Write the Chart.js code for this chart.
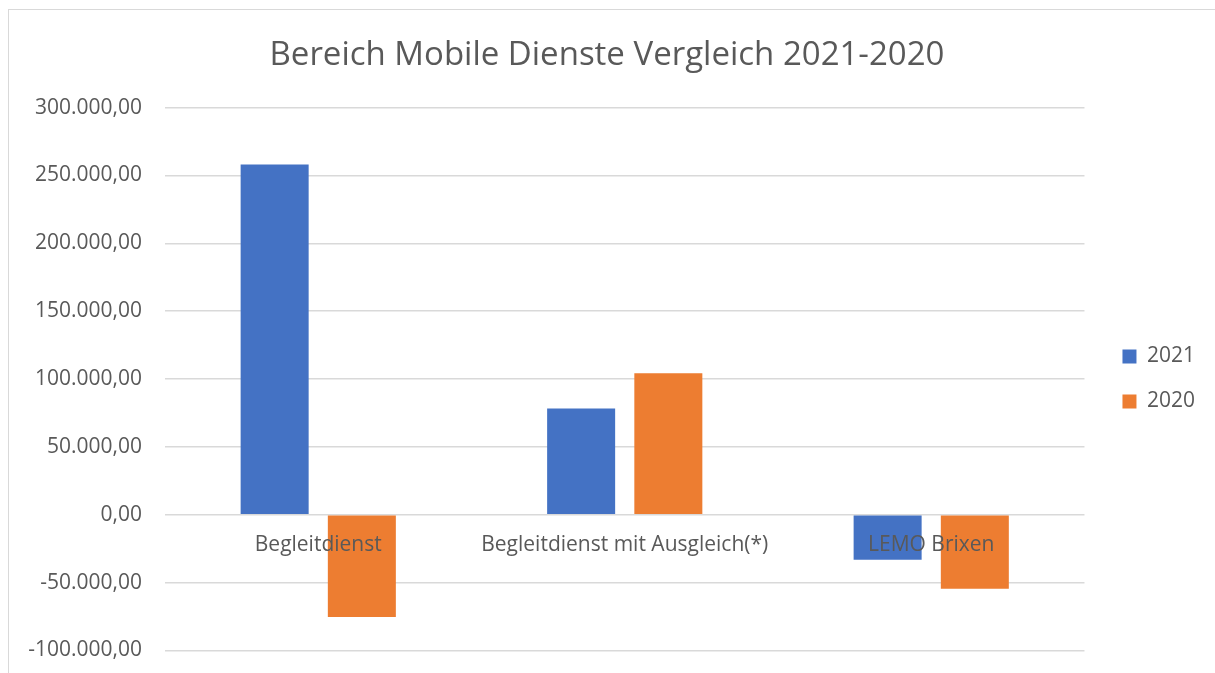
<!DOCTYPE html>
<html>
<head>
<meta charset="utf-8">
<script src="https://cdn.jsdelivr.net/npm/chart.js@4"></script>
<style>
    html, body { margin: 0; padding: 0; background: #fff; overflow: hidden; }
    #frame { position: absolute; left: 8px; top: 9px; width: 1215px; height: 690px; border: 1px solid #d9d9d9; }
    #chart { display: block; }
</style>
</head>
<body>
<div id="frame"><canvas id="chart" width="1215" height="676"></canvas></div>
<script>
// Chart data
const categories = ['Begleitdienst', 'Begleitdienst mit Ausgleich(*)', 'LEMO Brixen'];
const values2021 = [258000, 78300, -33200];
const values2020 = [-75400, 104200, -54500];
const yTicks = [-100000, -50000, 0, 50000, 100000, 150000, 200000, 250000, 300000];

const textColor = '#595959';
const fontFamily = '"Open Sans", sans-serif';

// Format number German style: 250.000,00
function formatGerman(v) {
    const neg = v < 0;
    const s = Math.abs(Math.round(v)).toString().replace(/\B(?=(\d{3})+(?!\d))/g, '.');
    return (neg ? '-' : '') + s + ',00';
}

const ctx = document.getElementById('chart');
new Chart(ctx, {
    type: 'bar',
    data: {
        labels: categories,
        datasets: [
            { label: '2021', data: values2021, backgroundColor: '#4472C4', categoryPercentage: 0.569, barPercentage: 0.78 },
            { label: '2020', data: values2020, backgroundColor: '#ED7D31', categoryPercentage: 0.569, barPercentage: 0.78 }
        ]
    },
    options: {
        responsive: false,
        animation: false,
        layout: { padding: { left: 0, right: 19, top: 0, bottom: 10 } },
        plugins: {
            title: {
                display: true,
                text: 'Bereich Mobile Dienste Vergleich 2021-2020',
                color: textColor,
                font: { family: fontFamily, size: 33, weight: 'normal' },
                padding: { top: 26, bottom: 32 }
            },
            legend: {
                position: 'right',
                fullSize: false,
                labels: {
                    color: textColor,
                    font: { family: fontFamily, size: 21 },
                    boxWidth: 14,
                    boxHeight: 14,
                    padding: 24
                }
            },
            tooltip: { enabled: false }
        },
        scales: {
            x: {
                position: { y: 0 },
                grid: { display: false, drawTicks: false },
                border: { display: false },
                ticks: { color: textColor, font: { family: fontFamily, size: 21 }, padding: 18, z: 1 }
            },
            y: {
                min: -100000,
                max: 300000,
                afterBuildTicks: scale => { scale.ticks = yTicks.map(v => ({ value: v })); },
                afterFit: scale => { scale.width = 156; },
                grid: { color: '#d9d9d9', lineWidth: 1.5, drawTicks: false },
                border: { display: false },
                ticks: {
                    color: textColor,
                    font: { family: fontFamily, size: 21 },
                    padding: 23,
                    callback: v => formatGerman(v)
                }
            },
            gap: {
                type: 'linear',
                position: 'right',
                display: true,
                grid: { display: false, drawTicks: false },
                border: { display: false },
                ticks: { display: false },
                afterFit: scale => { scale.width = 14; }
            }
        }
    }
});
</script>
</body>
</html>
